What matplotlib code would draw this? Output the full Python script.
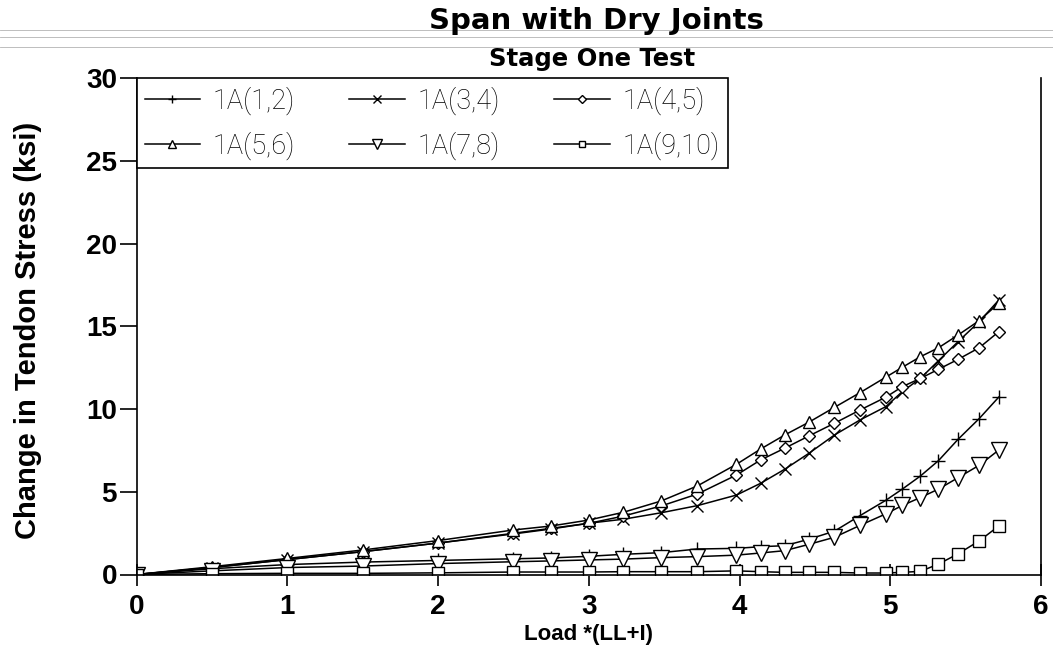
import matplotlib.pyplot as plt
from matplotlib.lines import Line2D

# load steps (shared by all gauges)
load = [0, 0.5, 1.0, 1.5, 2.0, 2.5, 2.75, 3.0, 3.23, 3.48, 3.72, 3.98,
        4.14, 4.30, 4.46, 4.63, 4.80, 4.97, 5.08, 5.20, 5.32, 5.45, 5.59, 5.72]

s12 = [0, 0.35, 0.6, 0.75, 0.85, 0.95, 1.0, 1.1, 1.22, 1.32, 1.54, 1.58,
       1.68, 1.74, 2.13, 2.62, 3.56, 4.48, 5.16, 5.95, 6.88, 8.17, 9.42, 10.72]
s34 = [0, 0.42, 0.9, 1.38, 1.9, 2.45, 2.75, 3.1, 3.34, 3.73, 4.16, 4.80,
       5.51, 6.36, 7.32, 8.43, 9.34, 10.14, 11.05, 11.85, 12.92, 14.07, 15.28, 16.58]
s45 = [0, 0.42, 0.9, 1.38, 1.9, 2.49, 2.79, 3.09, 3.53, 4.14, 4.86, 6.01,
       6.92, 7.63, 8.37, 9.14, 9.94, 10.71, 11.35, 11.85, 12.40, 13.00, 13.70, 14.67]
s56 = [0, 0.47, 0.97, 1.48, 2.05, 2.69, 2.93, 3.29, 3.76, 4.44, 5.35, 6.66,
       7.58, 8.43, 9.20, 10.10, 10.99, 11.92, 12.52, 13.16, 13.70, 14.47, 15.34, 16.39]
s78 = [0, 0.22, 0.42, 0.51, 0.66, 0.77, 0.82, 0.88, 0.93, 1.02, 1.08, 1.17,
       1.30, 1.44, 1.82, 2.25, 2.97, 3.66, 4.17, 4.65, 5.16, 5.85, 6.60, 7.52]
s910 = [0, 0.05, 0.07, 0.07, 0.1, 0.15, 0.15, 0.15, 0.17, 0.17, 0.17, 0.22,
        0.17, 0.13, 0.13, 0.13, 0.09, 0.09, 0.13, 0.19, 0.63, 1.25, 2.03, 2.93]

labels = ['1A(1,2)', '1A(3,4)', '1A(4,5)', '1A(5,6)', '1A(7,8)', '1A(9,10)']
series = [s12, s34, s45, s56, s78, s910]
markers = ['+', 'x', 'D', '^', 'v', 's']
msizes = [10, 9, 6.5, 9, 11, 8]

plt.rcParams['font.family'] = ['Liberation Sans', 'DejaVu Sans']

fig = plt.figure(figsize=(10.53, 6.56), dpi=100)
ax = fig.add_axes([136.5 / 1053, 1 - 574.5 / 656, (1041 - 136.5) / 1053, (574.5 - 78) / 656])

handles = []
for y, lab, m, ms in zip(series, labels, markers, msizes):
    h, = ax.plot(load, y, color='black', lw=1.1, marker=m, ms=ms,
                 mfc='white', mec='black', mew=1.0, label=lab)
    handles.append(h)

ax.set_xlim(0, 6)
ax.set_ylim(0, 30)
ax.set_xticks(range(0, 7))
ax.set_yticks(range(0, 31, 5))
ax.spines['top'].set_visible(False)
for sp in ['left', 'bottom', 'right']:
    ax.spines[sp].set_linewidth(1.2)
ax.tick_params(axis='x', direction='inout', length=16, width=1.2, pad=6)
ax.tick_params(axis='y', direction='out', length=12, width=1.2, pad=2)
for t in ax.get_xticklabels() + ax.get_yticklabels():
    t.set_fontsize(20)
    t.set_fontweight('bold')

ax.set_xlabel('Load *(LL+I)', fontsize=16, fontweight='bold')
ax.xaxis.set_label_coords(0.5, -(624 - 574.5) / 496.5)
ax.set_ylabel('Change in Tendon Stress (ksi)', fontsize=21, fontweight='bold')
ax.yaxis.set_label_coords(-(136.5 - 42) / 904.5, (574.5 - 330) / 496.5)

fig.text(0.566, 1 - 21 / 656, 'Span with Dry Joints', ha='center', va='center',
         fontsize=21, fontweight='bold', family='DejaVu Sans')
fig.text(0.562, 1 - 59 / 656, 'Stage One Test', ha='center', va='center',
         fontsize=17.5, fontweight='bold', family='DejaVu Sans')

# column-wise order so the legend reads row by row
order = [0, 3, 1, 4, 2, 5]
leg = ax.legend([handles[i] for i in order], [labels[i] for i in order],
                ncol=3, loc='upper left', bbox_to_anchor=(0, 1),
                borderaxespad=0, fancybox=False,
                edgecolor='black', framealpha=1, markerscale=0.6,
                handlelength=2.05, handletextpad=0.47, columnspacing=2.0,
                labelspacing=0.62, borderpad=0.3,
                prop={'family': ['Roboto', 'DejaVu Sans'], 'weight': 'light', 'size': 19.5})
leg.get_frame().set_linewidth(1.2)

# faint scan lines across the top of the page
for yy in [30, 37, 47]:
    fig.add_artist(Line2D([0, 1], [1 - yy / 656, 1 - yy / 656], color='0.7', lw=0.6))

fig.savefig('out.png', dpi=100)
